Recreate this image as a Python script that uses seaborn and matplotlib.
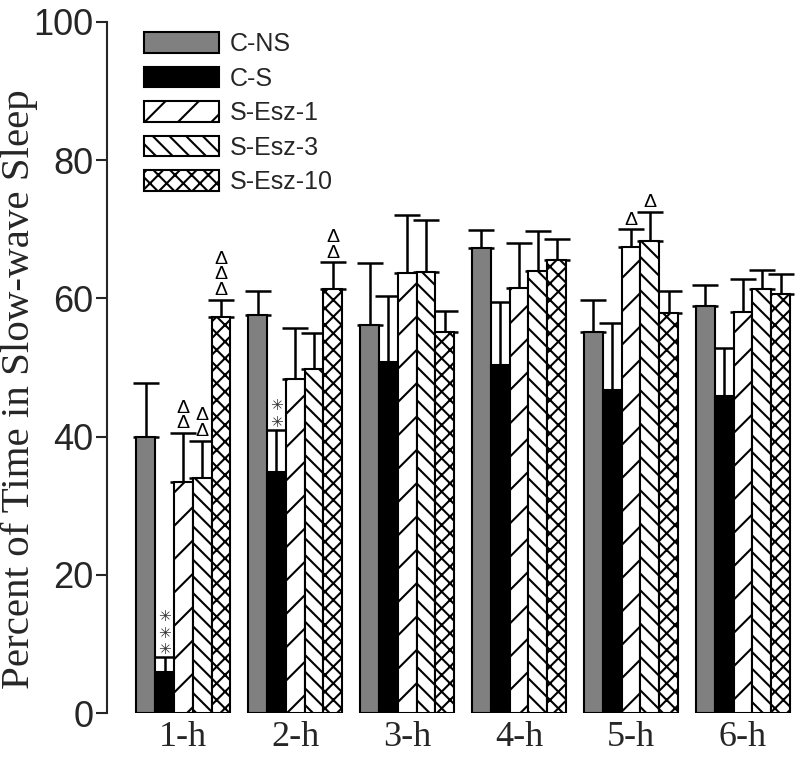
import numpy as np
import pandas as pd
import seaborn as sns
import matplotlib.pyplot as plt
from matplotlib.patches import Patch

# Data (mean and upward SEM)
hours = ['1-h', '2-h', '3-h', '4-h', '5-h', '6-h']
groups = ['C-NS', 'C-S', 'S-Esz-1', 'S-Esz-3', 'S-Esz-10']

c_ns = [40.0, 57.6, 56.2, 67.3, 55.1, 58.9]
c_ns_err = [7.8, 3.4, 8.9, 2.6, 4.6, 3.0]
c_s = [5.9, 34.9, 50.8, 50.4, 46.7, 45.9]
c_s_err = [2.2, 6.1, 9.5, 9.1, 9.8, 6.9]
esz1 = [33.4, 48.4, 63.7, 61.5, 67.4, 58.1]
esz1_err = [7.1, 7.3, 8.4, 6.5, 2.6, 4.7]
esz3 = [34.0, 49.8, 63.8, 64.0, 68.3, 61.4]
esz3_err = [5.4, 5.2, 7.5, 5.8, 4.2, 2.7]
esz10 = [57.3, 61.4, 55.1, 65.5, 57.9, 60.7]
esz10_err = [2.5, 3.8, 3.1, 3.1, 3.2, 2.9]

# significance marks: hour, group, symbol, how many stacked
annot_hour = ['1-h', '1-h', '1-h', '1-h', '2-h', '2-h', '5-h', '5-h']
annot_group = ['C-S', 'S-Esz-1', 'S-Esz-3', 'S-Esz-10', 'C-S', 'S-Esz-10', 'S-Esz-1', 'S-Esz-3']
annot_symbol = ['\u2733', '\u0394', '\u0394', '\u0394', '\u2733', '\u0394', '\u0394', '\u0394']
annot_count = [3, 2, 2, 3, 2, 2, 1, 1]

colors = ['#808080', '#000000', 'white', 'white', 'white']
hatches = ['', '', '/', '\\\\', 'xx']

means = [c_ns, c_s, esz1, esz3, esz10]
errs = [c_ns_err, c_s_err, esz1_err, esz3_err, esz10_err]

rows = []
for g, m, e in zip(groups, means, errs):
    for h, v, s in zip(hours, m, e):
        rows.append({'hour': h, 'group': g, 'pct': v, 'sem': s})
df = pd.DataFrame(rows)

sns.set_style('ticks')
plt.rcParams['font.family'] = ['Liberation Sans', 'DejaVu Sans']
plt.rcParams['hatch.linewidth'] = 1.5

fig = plt.figure(figsize=(8, 7.57), dpi=100)
ax = fig.add_axes([0.134, 0.058, 0.866, 0.913])

sns.barplot(data=df, x='hour', y='pct', hue='group', order=hours, hue_order=groups,
            palette=colors, width=0.84, edgecolor='black', linewidth=1.5,
            errorbar=None, legend=False, ax=ax, zorder=3)

# hatches + error bars (upper half only)
centers = {}
for cont, g, h, e in zip(ax.containers, groups, hatches, errs):
    xs = []
    for bar in cont:
        bar.set_hatch(h)
        xs.append(bar.get_x() + bar.get_width() / 2)
    centers[g] = xs
    vals = [b.get_height() for b in cont]
    ax.errorbar(xs, vals, yerr=[np.zeros(len(e)), e], fmt='none', ecolor='black',
                elinewidth=1.8, capsize=9.5, capthick=1.8, zorder=2)

# significance symbols stacked above the error caps
for h, g, sym, n in zip(annot_hour, annot_group, annot_symbol, annot_count):
    gi = groups.index(g)
    hi = hours.index(h)
    x = centers[g][hi]
    top = means[gi][hi] + errs[gi][hi]
    txt = '\n'.join([sym] * n)
    if sym == '\u0394':
        ax.annotate(txt, xy=(x, top), xytext=(0, 0.5), textcoords='offset points',
                    ha='center', va='bottom', fontsize=14, color='black',
                    linespacing=0.9)
    else:
        ax.annotate(txt, xy=(x, top), xytext=(0, 0), textcoords='offset points',
                    ha='center', va='bottom', fontsize=11, color='#303030',
                    linespacing=1.12, family=['DejaVu Sans'])

ax.set_ylim(0, 100)
ax.set_xlim(-0.68, 5.51)
ax.set_yticks([0, 20, 40, 60, 80, 100])
ax.set_xlabel('')
ax.set_ylabel('Percent of Time in Slow-wave Sleep', family=['Liberation Serif'],
              fontsize=29.5)
ax.yaxis.set_label_coords(-0.1, 0.469)
sns.despine(ax=ax, bottom=True)
ax.spines['left'].set_linewidth(1.5)
ax.tick_params(axis='y', length=8, width=1.5, labelsize=26, pad=2)
ax.tick_params(axis='x', length=0, labelsize=26, pad=6)
for lab in ax.get_xticklabels():
    lab.set_family(['Liberation Serif'])

handles = [Patch(facecolor=c, edgecolor='black', hatch=h, linewidth=1.5, label=g)
           for c, h, g in zip(colors, hatches, groups)]
ax.legend(handles=handles, loc='upper left', bbox_to_anchor=(0.053, 0.985), frameon=False,
          fontsize=18, handlelength=3.0, handleheight=0.88, labelspacing=0.42,
          handletextpad=0.45, borderaxespad=0, borderpad=0)

fig.savefig('out.png', dpi=100)
